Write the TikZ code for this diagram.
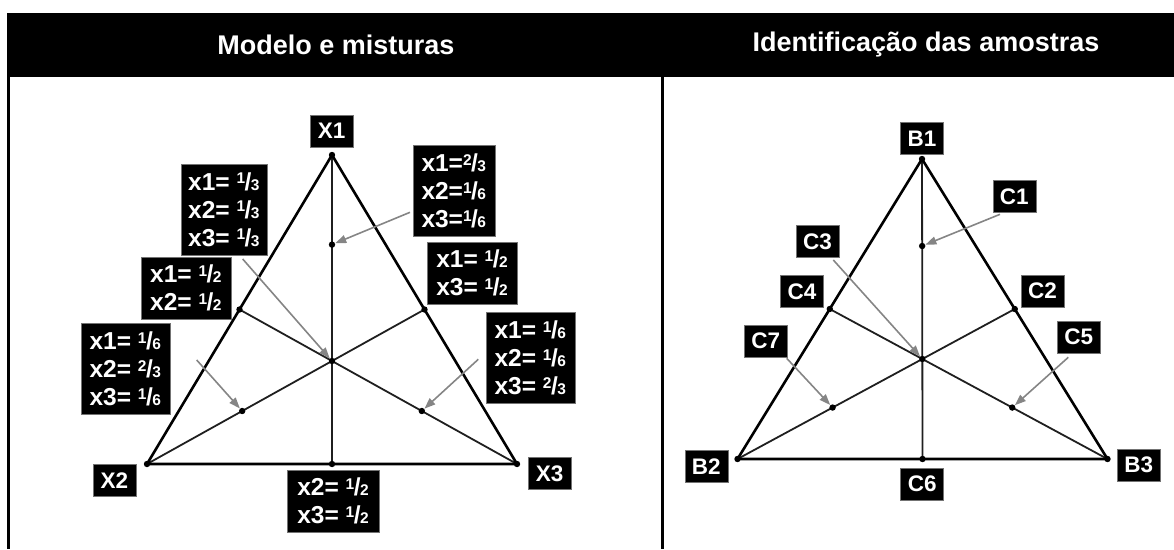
\documentclass[tikz,border=0pt]{standalone}
\usepackage{fontspec}
\setmainfont{Liberation Sans}
\usetikzlibrary{arrows.meta,calc}

% stacked fraction: small raised numerator, slash, small denominator
\newcommand\fr[2]{\raisebox{6.4pt}{\fontsize{15.5}{15.5}\selectfont#1}\kern-0.5pt/\kern-0.5pt{\fontsize{15.5}{15.5}\selectfont#2}}

\begin{document}
\begin{tikzpicture}[x=1pt,y=-1pt,
  edge/.style={line width=2.6pt,line cap=round,line join=round},
  median/.style={line width=1.8pt,draw=black!88},
  pointer/.style={draw=black!48,line width=1.6pt,-{Triangle[length=11pt,width=8pt]},shorten >=3.5pt},
  tag/.style={fill=black,draw=black!55,line width=0.5pt,text=white,
    font=\bfseries\fontsize{22.5}{24}\selectfont,inner sep=0pt,minimum width=43pt,minimum height=32pt},
  mix/.style={fill=black,draw=black!55,line width=0.5pt,text=white,
    font=\bfseries\fontsize{24.5}{28}\selectfont,align=left,inner xsep=2.5pt,inner ysep=0pt},
  mixthree/.style={mix,minimum width=86pt,minimum height=91pt},
  mixtwo/.style={mix,minimum width=90pt,minimum height=62pt},
  head/.style={text=white,font=\bfseries\fontsize{27}{30}\selectfont}
]
\useasboundingbox (0,0) rectangle (1174,549);

% table header and frame
\fill[black] (7,12.5) rectangle (1174,77);
\draw[line width=2.5pt] (8.5,76) -- (8.5,549);
\draw[line width=2.5pt] (662.5,76) -- (662.5,549);
\node[head] (hl) at (336,45) {Modelo e misturas};
\node[head] (hr) at (926,45) {Identificação das amostras};

% ---------- left: simplex with mixture proportions ----------
\coordinate (X1) at (332,155);
\coordinate (X2) at (147,464);
\coordinate (X3) at (517,464);
\coordinate (m12) at ($(X1)!0.5!(X2)$);
\coordinate (m13) at ($(X1)!0.5!(X3)$);
\coordinate (m23) at ($(X2)!0.5!(X3)$);
\coordinate (cen) at ($(X2)!0.6667!(m13)$);
\coordinate (p1) at ($(X1)!0.29!(m23)$);
\coordinate (p2) at ($(X2)!0.343!(m13)$);
\coordinate (p3) at ($(X3)!0.343!(m12)$);

\draw[median] (X1) -- (m23);
\draw[median] (m12) -- (X3);
\draw[median] (m13) -- (X2);
\draw[edge] (X1) -- (X2) -- (X3) -- cycle;
\foreach \p in {X1,X2,X3,m12,m13,m23,cen,p1,p2,p3} \fill (\p) circle (3.2pt);

\node[tag] (lX1) at (331.7,131.2) {X1};
\node[tag] (lX2) at (114.5,480.5) {X2};
\node[tag] (lX3) at (549.7,473.5) {X3};
\node[mixthree] (mA) at (223.9,209.5) {x1= \fr13\\x2= \fr13\\x3= \fr13};
\node[mixtwo] (mB) at (185.9,288) {x1= \fr12\\x2= \fr12};
\node[mixthree,minimum width=89pt] (mC) at (125.3,368.8) {x1= \fr16\\x2= \fr23\\x3= \fr16};
\node[mixtwo,minimum width=92pt] (mD) at (333,500.8) {x2= \fr12\\x3= \fr12};
\node[mixthree,minimum width=82pt] (mE) at (453.8,191.2) {x1=\fr23\\x2=\fr16\\x3=\fr16};
\node[mixtwo] (mF) at (472,273) {x1= \fr12\\x3= \fr12};
\node[mixthree,minimum width=89pt] (mG) at (530.3,358) {x1= \fr16\\x2= \fr16\\x3= \fr23};

\coordinate (tA) at (242.7,259);
\coordinate (tC) at (196.7,360);
\coordinate (tE) at (410,212.3);
\coordinate (tG) at (478.3,359.3);
\draw[pointer] (tE) -- (p1);
\draw[pointer] (tA) -- (cen);
\draw[pointer] (tC) -- (p2);
\draw[pointer] (tG) -- (p3);

% ---------- right: sample identification ----------
\coordinate (B1) at (922,159);
\coordinate (B2) at (737.5,459);
\coordinate (B3) at (1107.5,459);
\coordinate (n12) at ($(B1)!0.5!(B2)$);
\coordinate (n13) at ($(B1)!0.5!(B3)$);
\coordinate (n23) at ($(B2)!0.5!(B3)$);
\coordinate (ncen) at ($(B2)!0.6667!(n13)$);
\coordinate (q1) at ($(B1)!0.29!(n23)$);
\coordinate (q2) at ($(B2)!0.343!(n13)$);
\coordinate (q3) at ($(B3)!0.343!(n12)$);

\draw[median] (B1) -- (n23);
\draw[median] (n12) -- (B3);
\draw[median] (n13) -- (B2);
\draw[edge] (B1) -- (B2) -- (B3) -- cycle;
\foreach \p in {B1,B2,B3,n12,n13,n23,ncen,q1,q2,q3} \fill (\p) circle (3.2pt);

\node[tag] (lB1) at (922,138.3) {B1};
\node[tag] (lB2) at (706.3,466.7) {B2};
\node[tag] (lB3) at (1138.7,465.2) {B3};
\node[tag] (lC1) at (1014.3,196.7) {C1};
\node[tag] (lC2) at (1042.5,291.2) {C2};
\node[tag] (lC3) at (817.5,241.7) {C3};
\node[tag] (lC4) at (802,291.5) {C4};
\node[tag] (lC5) at (1078.7,337.2) {C5};
\node[tag] (lC6) at (922.2,484.2) {C6};
\node[tag] (lC7) at (765.7,341.2) {C7};

\coordinate (tC1) at (1000,214.3);
\coordinate (tC3) at (833.3,260);
\coordinate (tC7) at (786.7,358.3);
\coordinate (tC5) at (1068.3,357.3);
\draw[pointer] (tC1) -- (q1);
\draw[pointer] (tC3) -- (ncen);
\draw[pointer] (tC7) -- (q2);
\draw[pointer] (tC5) -- (q3);
\end{tikzpicture}
\end{document}
